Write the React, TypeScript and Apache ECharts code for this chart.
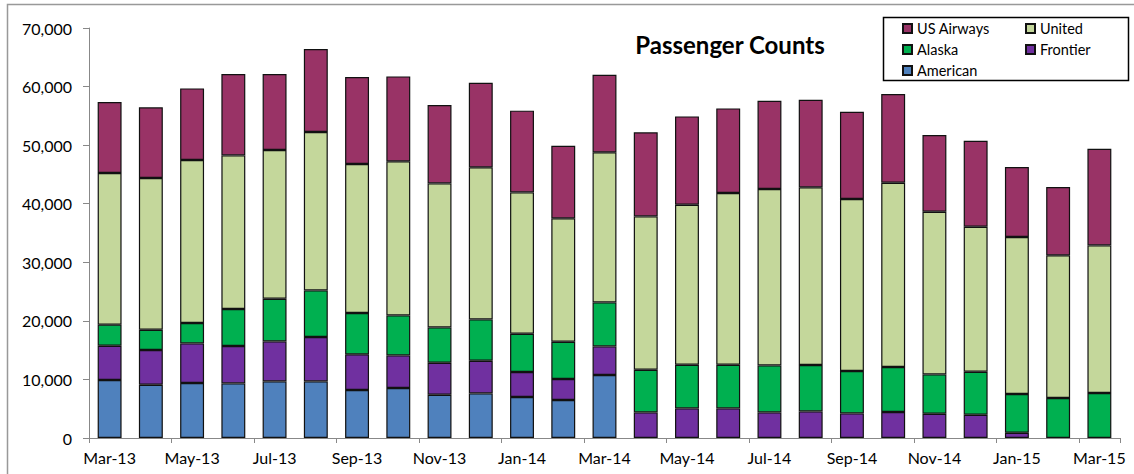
import React, { useEffect, useRef } from "react";
import * as echarts from "echarts";

const months = [
  "Mar-13", "Apr-13", "May-13", "Jun-13", "Jul-13", "Aug-13", "Sep-13", "Oct-13", "Nov-13", "Dec-13",
  "Jan-14", "Feb-14", "Mar-14", "Apr-14", "May-14", "Jun-14", "Jul-14", "Aug-14", "Sep-14", "Oct-14",
  "Nov-14", "Dec-14", "Jan-15", "Feb-15", "Mar-15",
];

const american = [9900, 9100, 9390, 9320, 9665, 9665, 8200, 8540, 7395, 7615, 7000, 6490, 10755,
  null, null, null, null, null, null, null, null, null, null, null, null];
const frontier = [5860, 5925, 6760, 6390, 6830, 7580, 6080, 5565, 5460, 5585, 4270, 3585, 4885,
  4370, 5055, 5055, 4370, 4545, 4200, 4440, 4150, 3980, 900, null, null];
const alaska = [3590, 3465, 3485, 6315, 7290, 7955, 7065, 6830, 6030, 7050, 6540, 6370, 7515,
  7290, 7460, 7460, 8025, 7920, 7240, 7680, 6710, 7340, 6610, 6830, 7685];
const united = [25900, 25900, 27830, 26225, 25385, 27045, 25440, 26295, 24585, 25955, 24125, 21055, 25615,
  26175, 27315, 29315, 30115, 30325, 29365, 31470, 27780, 24755, 26810, 24350, 25200];
const usAirways = [12120, 12060, 12225, 13900, 12980, 14170, 14855, 14510, 13385, 14460, 13950, 12405, 13260,
  14345, 15080, 14445, 15080, 14970, 14905, 15140, 13090, 14685, 11950, 11675, 16510];

const seriesDefs = [
  { name: "American", data: american, color: "#4F81BD" },
  { name: "Frontier", data: frontier, color: "#7030A0" },
  { name: "Alaska", data: alaska, color: "#00B050" },
  { name: "United", data: united, color: "#C4D79B" },
  { name: "US Airways", data: usAirways, color: "#993366" },
];

const FONT = "Lato, 'Liberation Sans', sans-serif";

export default function App() {
  const ref = useRef<HTMLDivElement>(null);
  useEffect(() => {
    if (!ref.current) return;
    const chart = echarts.init(ref.current, null, { renderer: "svg" });
    const legendPos: Record<string, [number, number]> = {
      "US Airways": [902, 28.5],
      "United": [1025, 28.5],
      "Alaska": [902, 49.5],
      "Frontier": [1025, 49.5],
      "American": [902, 70.5],
    };
    const legends = Object.keys(legendPos).map((name) => ({
      data: [name],
      left: legendPos[name][0],
      top: legendPos[name][1] - 8,
      padding: 0,
      itemGap: 0,
      itemWidth: 9,
      itemHeight: 9,
      icon: "rect",
      selectedMode: false,
      textStyle: { fontFamily: FONT, fontSize: 14.5, color: "#000", lineHeight: 16 },
    }));
    chart.setOption({
      animation: false,
      backgroundColor: "#fff",
      textStyle: { fontFamily: FONT },
      grid: { left: 89, right: 14, top: 28, bottom: 36, containLabel: false },
      legend: legends,
      graphic: [
        {
          type: "rect",
          shape: { x: 7.5, y: 4.5, width: 1200, height: 600 },
          style: { fill: "none", stroke: "#999", lineWidth: 1.5 },
          silent: true,
          z: -1,
        },
        {
          type: "rect",
          shape: { x: 883.5, y: 17.5, width: 245, height: 63 },
          style: { fill: "#fff", stroke: "#000", lineWidth: 1.5 },
          silent: true,
          z: 1,
        },
        {
          type: "text",
          x: 730,
          y: 44,
          style: {
            text: "Passenger Counts",
            fontFamily: FONT,
            fontSize: 24,
            fontWeight: "bold",
            fill: "#000",
            align: "center",
            verticalAlign: "middle",
          },
          z: 5,
        },
      ],
      xAxis: {
        type: "category",
        data: months,
        boundaryGap: true,
        axisLine: { show: true, lineStyle: { color: "#888", width: 1 } },
        axisTick: { show: true, interval: 1, length: 5, lineStyle: { color: "#888" } },
        axisLabel: { interval: 1, margin: 11, fontSize: 16, color: "#000", fontFamily: FONT },
      },
      yAxis: {
        type: "value",
        min: 0,
        max: 70000,
        interval: 10000,
        axisLine: { show: true, lineStyle: { color: "#888", width: 1 } },
        axisTick: { show: true, length: 6, lineStyle: { color: "#888" } },
        splitLine: { show: false },
        axisLabel: {
          margin: 17,
          fontSize: 16,
          color: "#000",
          fontFamily: FONT,
          formatter: (v: number) => v.toLocaleString("en-US"),
        },
      },
      series: seriesDefs.map((s) => ({
        name: s.name,
        type: "bar",
        stack: "total",
        data: s.data,
        barWidth: "58%",
        itemStyle: { color: s.color, borderColor: "#111", borderWidth: 1.2 },
      })),
    });
    return () => chart.dispose();
  }, []);
  return (
    <div
      ref={ref}
      style={{ position: "absolute", left: 0, top: 0, width: 1134, height: 474 }}
    />
  );
}
